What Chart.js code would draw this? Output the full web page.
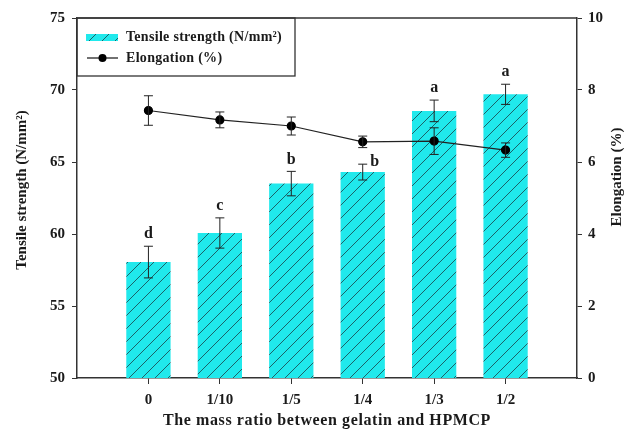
<!DOCTYPE html>
<html><head><meta charset="utf-8">
<script src="https://cdn.jsdelivr.net/npm/chart.js@4.4.0/dist/chart.umd.min.js"></script>
<style>html,body{margin:0;padding:0;background:#fff}</style>
</head><body>
<canvas id="c" width="626" height="431"></canvas>
<script>
// Film properties versus gelatin : HPMCP mass ratio
const categories = ['0', '1/10', '1/5', '1/4', '1/3', '1/2'];
const tensile = [58.05, 60.07, 63.5, 64.3, 68.55, 69.7];
const tensileErr = [1.1, 1.05, 0.85, 0.55, 0.75, 0.7];
const elongation = [7.43, 7.17, 7.0, 6.56, 6.58, 6.33];
const elongationErr = [0.41, 0.22, 0.25, 0.16, 0.37, 0.2];
const groupLetters = ['d', 'c', 'b', 'b', 'a', 'a'];
const tensileTicks = [50, 55, 60, 65, 70, 75];
const elongationTicks = [0, 2, 4, 6, 8, 10];
const seriesNames = ['Tensile strength (N/mm\u00B2)', 'Elongation (%)'];
const axisTitles = {
  x: 'The mass ratio between gelatin and HPMCP',
  y: 'Tensile strength (N/mm\u00B2)',
  y1: 'Elongation (%)'
};

// blank slots either side so the groups sit one full step from each axis
const labels = ['', ...categories, ''];
const pad = a => [null, ...a, null];

const SERIF = '"Liberation Serif", "Times New Roman", serif';
const INK = '#1a1a1a';
const AXIS = '#333';

// diagonal hatch fill for the bars
function makeHatch() {
  const s = 13;
  const c = document.createElement('canvas');
  c.width = s; c.height = s;
  const g = c.getContext('2d');
  g.fillStyle = '#20e9ec';
  g.fillRect(0, 0, s, s);
  g.strokeStyle = '#1b6268';
  g.lineWidth = 1;
  g.beginPath();
  g.moveTo(-1, s + 1); g.lineTo(s + 1, -1);
  g.moveTo(-1, 1); g.lineTo(1, -1);
  g.moveTo(s - 1, s + 1); g.lineTo(s + 1, s - 1);
  g.stroke();
  return g.createPattern(c, 'repeat');
}
const hatch = makeHatch();

function errBar(ctx, x, yTop, yBot, cap) {
  ctx.beginPath();
  ctx.moveTo(x, yTop); ctx.lineTo(x, yBot);
  ctx.moveTo(x - cap, yTop); ctx.lineTo(x + cap, yTop);
  ctx.moveTo(x - cap, yBot); ctx.lineTo(x + cap, yBot);
  ctx.stroke();
}

const decor = {
  id: 'decor',
  afterDatasetsDraw(chart) {
    const { ctx, scales } = chart;
    const xs = scales.x, ys = scales.y, y1 = scales.y1;
    ctx.save();
    ctx.strokeStyle = '#222';
    ctx.lineWidth = 1;
    categories.forEach((_, i) => {
      const x = xs.getPixelForValue(i + 1);
      const tTop = ys.getPixelForValue(tensile[i] + tensileErr[i]);
      const tBot = ys.getPixelForValue(tensile[i] - tensileErr[i]);
      errBar(ctx, x, tTop, tBot, 4.5);
      const eTop = y1.getPixelForValue(elongation[i] + elongationErr[i]);
      const eBot = y1.getPixelForValue(elongation[i] - elongationErr[i]);
      errBar(ctx, x, eTop, eBot, 4.5);

      // significance letter above the bar; step aside if it would hit the elongation marker
      ctx.fillStyle = INK;
      ctx.font = 'bold 16px ' + SERIF;
      ctx.textAlign = 'center';
      ctx.textBaseline = 'middle';
      let lx = x, ly = tTop - 12;
      if (ly - 7 < eBot + 4 && ly + 7 > eTop - 4) { lx = x + 12; ly = tTop - 2; }
      ctx.fillText(groupLetters[i], lx, ly);
    });
    ctx.restore();
  },
  afterDraw(chart) {
    const { ctx, chartArea: a } = chart;
    ctx.save();
    // top frame line
    ctx.strokeStyle = AXIS;
    ctx.lineWidth = 1.5;
    ctx.beginPath();
    ctx.moveTo(a.left, a.top); ctx.lineTo(a.right, a.top);
    ctx.stroke();

    // legend box
    const lx = a.left, ly = a.top, lw = 218, lh = 58;
    ctx.lineWidth = 1.3;
    ctx.strokeRect(lx, ly, lw, lh);
    ctx.fillStyle = hatch;
    ctx.fillRect(lx + 9, ly + 16, 32, 7);
    ctx.strokeStyle = '#111';
    ctx.lineWidth = 1.2;
    ctx.beginPath();
    ctx.moveTo(lx + 10, ly + 40); ctx.lineTo(lx + 41, ly + 40);
    ctx.stroke();
    ctx.fillStyle = '#000';
    ctx.beginPath();
    ctx.arc(lx + 25.5, ly + 40, 4, 0, Math.PI * 2);
    ctx.fill();
    ctx.fillStyle = INK;
    ctx.font = 'bold 14px ' + SERIF;
    ctx.letterSpacing = '0.3px';
    ctx.textAlign = 'left';
    ctx.textBaseline = 'middle';
    ctx.fillText(seriesNames[0], lx + 49, ly + 19);
    ctx.fillText(seriesNames[1], lx + 49, ly + 40);

    // axis titles
    ctx.font = 'bold 16px ' + SERIF;
    ctx.letterSpacing = '0.6px';
    ctx.textAlign = 'center';
    ctx.fillText(axisTitles.x, (a.left + a.right) / 2, 421);
    ctx.letterSpacing = '0px';
    ctx.font = 'bold 15px ' + SERIF;
    ctx.save();
    ctx.translate(22, 190);
    ctx.rotate(-Math.PI / 2);
    ctx.fillText(axisTitles.y, 0, 0);
    ctx.restore();
    ctx.save();
    ctx.translate(617, 177);
    ctx.rotate(-Math.PI / 2);
    ctx.fillText(axisTitles.y1, 0, 0);
    ctx.restore();
    ctx.restore();
  }
};

const tickFont = { family: SERIF, size: 15, weight: 'bold' };

new Chart(document.getElementById('c'), {
  type: 'bar',
  data: {
    labels,
    datasets: [
      {
        type: 'line',
        label: seriesNames[1],
        data: pad(elongation),
        yAxisID: 'y1',
        borderColor: '#222',
        borderWidth: 1.2,
        pointRadius: 4,
        pointBackgroundColor: '#000',
        pointBorderColor: '#000',
        tension: 0,
        order: 1
      },
      {
        type: 'bar',
        label: seriesNames[0],
        data: pad(tensile),
        yAxisID: 'y',
        backgroundColor: hatch,
        borderWidth: 0,
        categoryPercentage: 1,
        barPercentage: 0.62,
        order: 2
      }
    ]
  },
  options: {
    responsive: false,
    animation: false,
    layout: { padding: { top: 18, left: 0, right: 0, bottom: 0 } },
    plugins: { legend: { display: false }, tooltip: { enabled: false } },
    scales: {
      x: {
        type: 'category',
        offset: false,
        grid: {
          offset: false, drawOnChartArea: false, drawTicks: true, tickLength: 6,
          tickColor: c => (c.index === 0 || c.index === labels.length - 1) ? 'rgba(0,0,0,0)' : AXIS
        },
        border: { color: AXIS, width: 1.5 },
        ticks: { font: tickFont, color: INK, padding: 7, autoSkip: false, maxRotation: 0 },
        afterFit: s => { s.height = 53; }
      },
      y: {
        position: 'left',
        min: tensileTicks[0], max: tensileTicks[tensileTicks.length - 1],
        afterBuildTicks: s => { s.ticks = tensileTicks.map(v => ({ value: v })); },
        grid: { drawOnChartArea: false, drawTicks: true, tickLength: 5, tickColor: AXIS },
        border: { color: AXIS, width: 1.5 },
        ticks: { font: tickFont, color: INK, padding: 7 },
        afterFit: s => { s.width = 77; }
      },
      y1: {
        position: 'right',
        min: elongationTicks[0], max: elongationTicks[elongationTicks.length - 1],
        afterBuildTicks: s => { s.ticks = elongationTicks.map(v => ({ value: v })); },
        grid: { drawOnChartArea: false, drawTicks: true, tickLength: 5, tickColor: AXIS },
        border: { color: AXIS, width: 1.5 },
        ticks: { font: tickFont, color: INK, padding: 6 },
        afterFit: s => { s.width = 49; }
      }
    }
  },
  plugins: [decor]
});
</script>
</body></html>
